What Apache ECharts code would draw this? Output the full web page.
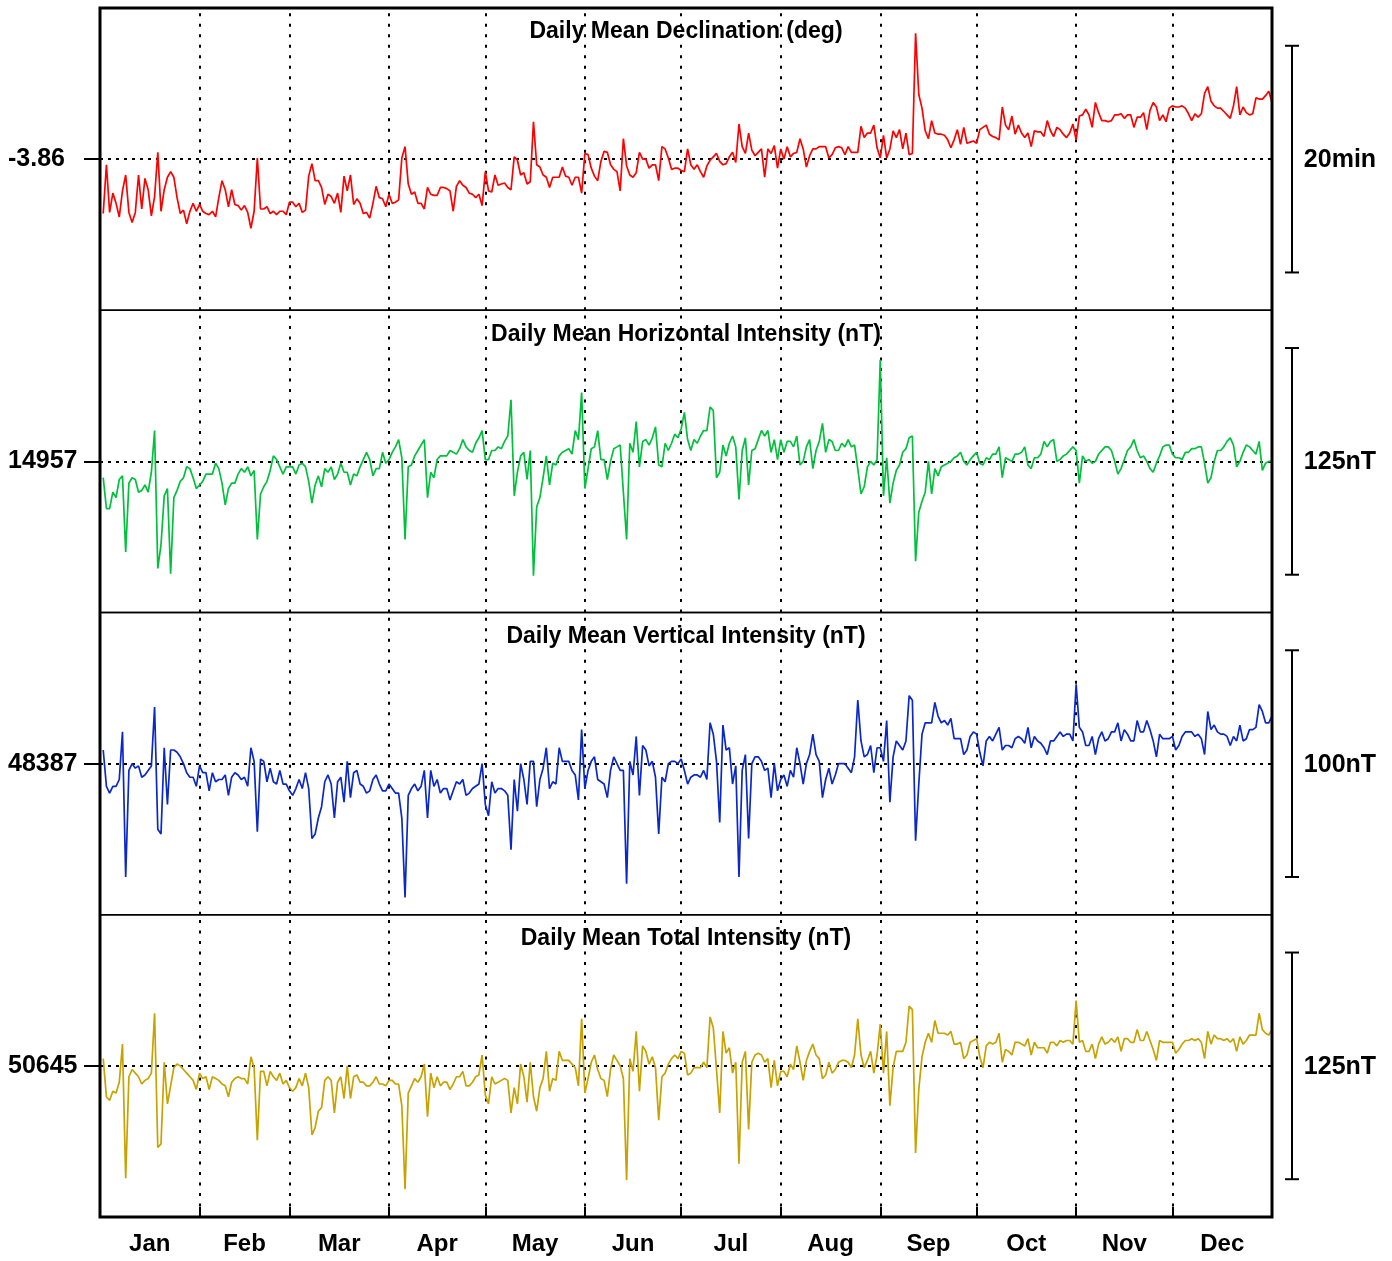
<!DOCTYPE html>
<html>
<head>
<meta charset="utf-8">
<title>Daily Means</title>
<script src="https://cdn.jsdelivr.net/npm/echarts/dist/echarts.min.js"></script>
<style>
  html, body { margin: 0; padding: 0; background: #fff; }
  #chart { width: 1392px; height: 1261px; }
</style>
</head>
<body>
<div id="chart"></div>
<script>
// month axis
const monthNames = ['Jan', 'Feb', 'Mar', 'Apr', 'May', 'Jun', 'Jul', 'Aug', 'Sep', 'Oct', 'Nov', 'Dec']
const monthStarts = [31, 59, 90, 120, 151, 181, 212, 243, 273, 304, 334]
const monthMids = [15.5, 45, 74.5, 105, 135.5, 166, 196.5, 227.5, 258, 288.5, 319, 349.5]

// declination, arcmin away from -3.86 deg
const declination = [
  -4.8, -0.5, -4.7, -3.0, -3.9, -5.1, -2.8, -1.4, -4.7, -5.6,
  -4.7, -1.4, -4.4, -1.7, -2.7, -5.0, -3.3, 0.6, -4.6, -2.7,
  -1.6, -1.1, -1.6, -3.4, -4.8, -4.5, -5.7, -4.6, -3.9, -4.6,
  -4.0, -4.6, -4.8, -4.9, -4.6, -5.1, -3.4, -1.9, -2.7, -4.2,
  -2.7, -4.0, -4.1, -4.5, -4.1, -4.7, -6.1, -4.6, 0.1, -4.4,
  -4.4, -4.2, -4.8, -4.6, -4.9, -4.6, -4.6, -4.9, -3.8, -3.8,
  -4.2, -3.9, -4.7, -4.5, -1.5, -0.4, -1.9, -1.9, -2.5, -4.0,
  -3.1, -3.3, -3.9, -3.0, -4.7, -1.5, -2.8, -1.4, -4.0, -3.5,
  -3.9, -4.8, -4.7, -5.2, -3.9, -2.4, -3.4, -3.5, -4.2, -3.1,
  -3.9, -3.8, -3.6, 0.1, 1.1, -2.2, -3.1, -2.9, -3.9, -3.9,
  -4.4, -2.5, -3.1, -3.2, -3.2, -2.5, -2.5, -2.6, -2.8, -4.6,
  -2.4, -1.9, -2.3, -2.5, -3.0, -3.1, -3.4, -3.1, -4.1, -1.1,
  -2.8, -2.9, -1.4, -2.3, -2.2, -2.1, -2.5, -2.7, 0.2, -0.1,
  -1.4, -1.2, -2.2, -2.0, 3.3, -0.5, -0.7, -1.4, -1.6, -2.5,
  -1.6, -1.6, -1.6, -0.7, -1.5, -1.6, -2.3, -1.6, -1.6, -3.0,
  0.5, 0.4, -0.8, -1.5, -1.9, -0.2, 0.7, 0.6, -0.5, -0.9,
  -1.1, -2.8, 1.8, -0.6, -1.4, -1.6, -1.2, 0.6, 0.0, 0.0,
  -0.8, -0.5, -0.5, -1.9, 1.1, 0.9, 0.1, -0.9, -0.8, -0.8,
  -1.0, -1.1, 0.9, -0.5, -0.9, -0.5, -1.1, -1.6, -0.6, -0.1,
  0.2, 0.5, -0.2, -0.5, -0.4, 0.2, 0.6, -0.3, 3.1, 1.1,
  0.5, 2.3, 0.8, 0.3, 0.6, 0.9, -1.6, 0.9, 0.5, 1.2,
  -0.8, 0.9, 0.0, 1.1, 0.2, 0.5, 0.6, 1.8, 0.9, -0.7,
  0.3, 0.9, 0.9, 1.1, 1.1, 1.1, 0.1, 0.4, 1.0, 1.1,
  1.0, 0.4, 1.1, 0.6, 0.6, 0.6, 2.9, 1.9, 2.3, 2.3,
  3.0, 1.0, 0.1, 2.1, 0.1, 0.9, 2.5, 1.9, 2.6, 0.9,
  2.3, 0.4, 0.5, 11.1, 5.7, 4.5, 2.5, 1.8, 3.4, 2.3,
  2.2, 2.2, 2.1, 1.7, 1.0, 1.7, 2.6, 1.3, 2.8, 1.4,
  1.5, 1.6, 1.4, 2.6, 2.8, 3.0, 2.2, 2.0, 1.9, 1.7,
  4.6, 3.0, 2.6, 3.8, 2.2, 3.0, 2.3, 1.9, 2.3, 1.1,
  2.5, 2.4, 2.4, 2.0, 3.4, 2.5, 2.0, 2.8, 2.6, 2.2,
  1.9, 2.3, 3.1, 1.7, 3.8, 3.9, 4.4, 3.9, 2.8, 5.0,
  4.1, 3.4, 3.4, 3.3, 3.4, 3.9, 3.9, 4.0, 3.6, 3.9,
  3.9, 2.8, 3.7, 3.7, 4.1, 2.6, 4.3, 5.0, 4.6, 3.4,
  3.9, 3.3, 4.5, 4.7, 4.6, 4.6, 4.7, 4.5, 4.0, 3.4,
  4.0, 3.7, 4.0, 5.8, 6.4, 5.1, 4.7, 4.5, 4.5, 4.2,
  3.9, 3.6, 4.7, 6.4, 3.9, 4.6, 4.1, 3.9, 4.0, 5.4,
  5.3, 5.3, 5.6, 6.0, 5.0
]

// horizontal intensity, nT
const horizontal = [
  14948, 14931, 14931, 14940, 14937, 14947, 14949, 14907, 14945, 14948,
  14947, 14940, 14941, 14944, 14940, 14951, 14974, 14898, 14911, 14938,
  14942, 14895, 14937, 14941, 14946, 14948, 14954, 14953, 14948, 14942,
  14944, 14946, 14950, 14950, 14950, 14956, 14953, 14945, 14933, 14942,
  14945, 14945, 14950, 14953, 14951, 14954, 14949, 14952, 14914, 14939,
  14943, 14946, 14952, 14960, 14958, 14954, 14950, 14954, 14954, 14954,
  14950, 14955, 14956, 14954, 14946, 14934, 14944, 14949, 14943, 14953,
  14951, 14954, 14947, 14950, 14956, 14951, 14951, 14944, 14950, 14949,
  14954, 14958, 14962, 14958, 14949, 14953, 14953, 14962, 14956, 14958,
  14962, 14965, 14969, 14959, 14914, 14954, 14955, 14960, 14963, 14966,
  14969, 14937, 14951, 14948, 14958, 14960, 14960, 14960, 14963, 14962,
  14961, 14964, 14969, 14965, 14963, 14962, 14967, 14970, 14974, 14958,
  14958, 14963, 14963, 14965, 14964, 14968, 14971, 14991, 14938, 14951,
  14960, 14962, 14947, 14963, 14894, 14932, 14937, 14948, 14960, 14944,
  14956, 14955, 14960, 14962, 14963, 14964, 14961, 14974, 14969, 14995,
  14942, 14953, 14964, 14965, 14974, 14958, 14958, 14947, 14957, 14964,
  14965, 14966, 14940, 14914, 14967, 14962, 14979, 14954, 14968, 14969,
  14966, 14970, 14976, 14955, 14954, 14967, 14963, 14967, 14972, 14970,
  14975, 14984, 14969, 14963, 14969, 14967, 14971, 14974, 14974, 14987,
  14985, 14948, 14951, 14966, 14960, 14967, 14971, 14965, 14936, 14963,
  14970, 14944, 14963, 14964, 14969, 14974, 14971, 14974, 14962, 14969,
  14958, 14969, 14962, 14968, 14968, 14965, 14971, 14955, 14957, 14965,
  14969, 14953, 14963, 14968, 14978, 14962, 14969, 14968, 14963, 14963,
  14967, 14965, 14969, 14965, 14966, 14953, 14939, 14943, 14954, 14957,
  14955, 14958, 15013, 14938, 14959, 14934, 14945, 14952, 14955, 14962,
  14964, 14970, 14971, 14902, 14929, 14935, 14940, 14957, 14939, 14953,
  14949, 14954, 14955, 14956, 14957, 14959, 14960, 14962, 14957, 14955,
  14958, 14960, 14962, 14956, 14955, 14959, 14958, 14961, 14961, 14965,
  14948, 14959, 14958, 14957, 14961, 14961, 14962, 14965, 14955, 14953,
  14959, 14959, 14961, 14968, 14965, 14968, 14969, 14957, 14958, 14960,
  14961, 14963, 14965, 14963, 14945, 14960, 14957, 14958, 14956, 14957,
  14961, 14963, 14965, 14965, 14963, 14957, 14950, 14953, 14958, 14963,
  14965, 14969, 14963, 14959, 14960, 14957, 14953, 14951, 14956, 14960,
  14965, 14966, 14966, 14961, 14959, 14959, 14958, 14962, 14962, 14964,
  14964, 14965, 14965, 14956, 14945, 14948, 14957, 14963, 14963, 14965,
  14968, 14970, 14966, 14954, 14957, 14962, 14966, 14965, 14963, 14961,
  14968, 14952, 14956, 14957, 14957
]

// vertical intensity, nT
const vertical = [
  48393, 48377, 48374, 48377, 48377, 48380, 48401, 48337, 48384, 48387,
  48385, 48386, 48381, 48382, 48384, 48386, 48412, 48358, 48356, 48394,
  48369, 48393, 48393, 48392, 48390, 48387, 48383, 48381, 48381, 48377,
  48386, 48383, 48383, 48375, 48383, 48379, 48380, 48380, 48382, 48373,
  48381, 48383, 48382, 48380, 48381, 48377, 48394, 48388, 48357, 48389,
  48388, 48379, 48385, 48379, 48378, 48384, 48378, 48378, 48375, 48373,
  48376, 48380, 48376, 48383, 48376, 48354, 48356, 48363, 48368, 48379,
  48382, 48378, 48363, 48379, 48381, 48370, 48388, 48372, 48383, 48384,
  48378, 48377, 48374, 48375, 48380, 48382, 48378, 48375, 48375, 48378,
  48376, 48374, 48374, 48363, 48328, 48373, 48376, 48378, 48375, 48377,
  48384, 48363, 48384, 48377, 48380, 48374, 48376, 48376, 48371, 48375,
  48379, 48378, 48380, 48373, 48374, 48376, 48377, 48378, 48387, 48369,
  48364, 48379, 48374, 48376, 48376, 48375, 48373, 48349, 48380, 48366,
  48387, 48380, 48369, 48388, 48388, 48368, 48380, 48385, 48394, 48376,
  48379, 48378, 48394, 48388, 48388, 48388, 48384, 48382, 48371, 48402,
  48376, 48384, 48388, 48390, 48380, 48379, 48378, 48372, 48384, 48390,
  48387, 48384, 48384, 48334, 48388, 48382, 48399, 48373, 48395, 48393,
  48386, 48388, 48381, 48356, 48381, 48379, 48387, 48388, 48388, 48387,
  48389, 48384, 48378, 48381, 48382, 48382, 48381, 48384, 48380, 48405,
  48400, 48388, 48361, 48404, 48393, 48394, 48378, 48386, 48337, 48384,
  48391, 48354, 48387, 48390, 48390, 48388, 48384, 48385, 48372, 48387,
  48375, 48380, 48382, 48377, 48384, 48381, 48394, 48387, 48378, 48387,
  48391, 48400, 48391, 48388, 48372, 48380, 48385, 48378, 48382, 48387,
  48387, 48387, 48385, 48383, 48390, 48415, 48397, 48390, 48391, 48395,
  48383, 48394, 48394, 48388, 48406, 48370, 48390, 48397, 48395, 48393,
  48397, 48417, 48415, 48353, 48378, 48400, 48405, 48405, 48405, 48414,
  48408, 48405, 48406, 48404, 48407, 48398, 48398, 48398, 48391, 48393,
  48399, 48401, 48400, 48392, 48386, 48397, 48399, 48397, 48400, 48403,
  48393, 48395, 48395, 48394, 48398, 48399, 48398, 48396, 48403, 48394,
  48399, 48397, 48396, 48394, 48391, 48397, 48397, 48399, 48401, 48399,
  48400, 48400, 48397, 48422, 48403, 48401, 48395, 48395, 48399, 48391,
  48398, 48401, 48397, 48398, 48401, 48401, 48405, 48397, 48402, 48400,
  48397, 48397, 48406, 48401, 48401, 48406, 48402, 48397, 48390, 48400,
  48398, 48398, 48398, 48399, 48393, 48395, 48399, 48401, 48401, 48401,
  48399, 48400, 48398, 48391, 48410, 48402, 48404, 48401, 48400, 48400,
  48399, 48395, 48399, 48397, 48404, 48397, 48398, 48402, 48402, 48403,
  48413, 48410, 48405, 48405, 48408
]

// total intensity, nT
const total = [
  50649, 50628, 50626, 50631, 50630, 50636, 50657, 50583, 50639, 50643,
  50641, 50639, 50635, 50637, 50638, 50641, 50674, 50600, 50602, 50647,
  50624, 50634, 50644, 50646, 50645, 50643, 50641, 50639, 50637, 50632,
  50641, 50638, 50639, 50632, 50639, 50638, 50637, 50635, 50634, 50628,
  50636, 50638, 50639, 50638, 50638, 50635, 50650, 50644, 50604, 50642,
  50642, 50634, 50642, 50639, 50637, 50641, 50635, 50637, 50633, 50631,
  50633, 50638, 50634, 50641, 50633, 50607, 50611, 50620, 50622, 50637,
  50639, 50637, 50619, 50636, 50639, 50627, 50645, 50627, 50639, 50640,
  50636, 50636, 50634, 50634, 50636, 50639, 50635, 50635, 50634, 50637,
  50637, 50635, 50635, 50623, 50577, 50630, 50634, 50638, 50636, 50639,
  50646, 50617, 50641, 50633, 50639, 50634, 50636, 50636, 50632, 50635,
  50639, 50639, 50642, 50634, 50634, 50636, 50639, 50640, 50651, 50629,
  50624, 50639, 50635, 50636, 50637, 50638, 50637, 50619, 50633, 50624,
  50646, 50639, 50625, 50647, 50628, 50620, 50633, 50638, 50653, 50631,
  50638, 50637, 50653, 50648, 50648, 50648, 50646, 50644, 50634, 50671,
  50630, 50638, 50647, 50651, 50643, 50638, 50637, 50628, 50643, 50651,
  50648, 50645, 50638, 50582, 50649, 50642, 50664, 50631, 50656, 50653,
  50646, 50650, 50644, 50615, 50639, 50641, 50646, 50649, 50651, 50649,
  50653, 50652, 50640, 50641, 50644, 50644, 50644, 50647, 50644, 50672,
  50666, 50643, 50619, 50664, 50652, 50655, 50641, 50647, 50591, 50647,
  50653, 50610, 50647, 50651, 50652, 50651, 50647, 50649, 50633, 50648,
  50634, 50642, 50642, 50639, 50646, 50643, 50656, 50647, 50637, 50648,
  50653, 50657, 50651, 50649, 50638, 50640, 50647, 50641, 50643, 50647,
  50648, 50648, 50647, 50644, 50651, 50671, 50651, 50644, 50648, 50653,
  50641, 50651, 50668, 50641, 50664, 50623, 50644, 50653, 50653, 50653,
  50658, 50678, 50676, 50597, 50632, 50650, 50658, 50663, 50658, 50670,
  50663, 50663, 50663, 50662, 50664, 50657, 50657, 50658, 50649, 50651,
  50658, 50659, 50660, 50650, 50644, 50656, 50658, 50657, 50658, 50663,
  50647, 50654, 50653, 50651, 50658, 50658, 50657, 50656, 50660, 50651,
  50658, 50655, 50655, 50655, 50652, 50658, 50658, 50656, 50659, 50658,
  50659, 50659, 50657, 50681, 50658, 50659, 50653, 50653, 50657, 50649,
  50657, 50661, 50657, 50658, 50660, 50658, 50661, 50653, 50660, 50660,
  50658, 50658, 50665, 50659, 50659, 50664, 50659, 50654, 50648, 50659,
  50658, 50658, 50658, 50658, 50652, 50654, 50657, 50659, 50659, 50660,
  50659, 50660, 50658, 50649, 50664, 50657, 50662, 50660, 50660, 50659,
  50660, 50658, 50660, 50653, 50661, 50657, 50659, 50662, 50662, 50662,
  50674, 50665, 50663, 50662, 50665
]

const font = "'Liberation Sans', Arial, Helvetica, sans-serif"

// one entry per panel; bar = length of the scale bar (75% of panel height)
const panels = [
  { title: 'Daily Mean Declination (deg)', data: declination, color: '#ff0000', base: 0, baseLabel: '-3.86', bar: 20, barLabel: '20min' },
  { title: 'Daily Mean Horizontal Intensity (nT)', data: horizontal, color: '#00c03c', base: 14957, baseLabel: '14957', bar: 125, barLabel: '125nT' },
  { title: 'Daily Mean Vertical Intensity (nT)', data: vertical, color: '#0a28c8', base: 48387, baseLabel: '48387', bar: 100, barLabel: '100nT' },
  { title: 'Daily Mean Total Intensity (nT)', data: total, color: '#c8a200', base: 50645, baseLabel: '50645', bar: 125, barLabel: '125nT' }
]

const plotLeft = 100
const plotTop = 8
const plotWidth = 1172
const panelH = 302.25

const chart = echarts.init(document.getElementById('chart'))

const option = {
  animation: false,
  backgroundColor: '#fff',
  grid: panels.map((p, k) => ({
    left: plotLeft,
    top: plotTop + k * panelH,
    width: plotWidth,
    height: panelH,
    show: true,
    borderColor: '#000',
    borderWidth: 1.5,
    backgroundColor: 'transparent'
  })),
  xAxis: panels.map((p, k) => ({
    type: 'value',
    gridIndex: k,
    min: 0,
    max: 365,
    axisLine: { show: false },
    splitLine: { show: false },
    axisTick: {
      show: k === 3,
      inside: true,
      length: 10,
      customValues: monthStarts,
      lineStyle: { color: '#000', width: 2 }
    },
    axisLabel: {
      show: k === 3,
      customValues: monthMids,
      formatter: v => monthNames[monthMids.indexOf(v)] || '',
      color: '#000',
      fontFamily: font,
      fontWeight: 'bold',
      fontSize: 24,
      margin: 15
    }
  })),
  yAxis: panels.map((p, k) => ({
    type: 'value',
    gridIndex: k,
    min: p.base - p.bar / 1.5,
    max: p.base + p.bar / 1.5,
    axisLine: { show: false },
    splitLine: { show: false },
    axisTick: {
      show: true,
      length: 16,
      customValues: [p.base],
      lineStyle: { color: '#000', width: 2 }
    },
    axisLabel: {
      customValues: [p.base],
      formatter: () => p.baseLabel,
      align: 'left',
      margin: 92,
      color: '#000',
      fontFamily: font,
      fontWeight: 'bold',
      fontSize: 25
    }
  })),
  series: panels.map((p, k) => ({
    type: 'line',
    xAxisIndex: k,
    yAxisIndex: k,
    showSymbol: false,
    symbol: 'none',
    lineStyle: { color: p.color, width: 1.7 },
    data: p.data.map((v, i) => [i + 1, v]),
    z: 3,
    markLine: {
      silent: true,
      symbol: 'none',
      animation: false,
      z: 2,
      label: { show: false },
      lineStyle: { color: '#000', type: [3, 7.5], width: 2 },
      data: [
        ...monthStarts.map(d => ({ xAxis: d })),
        { yAxis: p.base, lineStyle: { color: '#000', type: [3, 5], width: 2 } }
      ]
    }
  }))
}

chart.setOption(option)

// titles, outer frame and scale bars on the right
const graphics = []
panels.forEach((p, k) => {
  const top = plotTop + k * panelH
  graphics.push({
    type: 'text',
    x: plotLeft + plotWidth / 2,
    y: top + 24,
    style: {
      text: p.title,
      fill: '#000',
      font: 'bold 23px ' + font,
      textAlign: 'center',
      textVerticalAlign: 'middle'
    },
    z: 10
  })
  const yHi = chart.convertToPixel({ yAxisIndex: k }, p.base + p.bar / 2)
  const yLo = chart.convertToPixel({ yAxisIndex: k }, p.base - p.bar / 2)
  const yMid = chart.convertToPixel({ yAxisIndex: k }, p.base)
  const lineStyle = { stroke: '#000', lineWidth: 2 }
  graphics.push({ type: 'line', shape: { x1: 1292, y1: yHi, x2: 1292, y2: yLo }, style: lineStyle })
  graphics.push({ type: 'line', shape: { x1: 1285, y1: yHi, x2: 1299, y2: yHi }, style: lineStyle })
  graphics.push({ type: 'line', shape: { x1: 1285, y1: yLo, x2: 1299, y2: yLo }, style: lineStyle })
  graphics.push({
    type: 'text',
    x: 1340,
    y: yMid + 1,
    style: {
      text: p.barLabel,
      fill: '#000',
      font: 'bold 25px ' + font,
      textAlign: 'center',
      textVerticalAlign: 'middle'
    }
  })
})
graphics.push({
  type: 'rect',
  shape: { x: plotLeft, y: plotTop, width: plotWidth, height: panelH * 4 },
  style: { fill: 'none', stroke: '#000', lineWidth: 3 },
  z: 20
})

chart.setOption({ graphic: graphics })
</script>
</body>
</html>
